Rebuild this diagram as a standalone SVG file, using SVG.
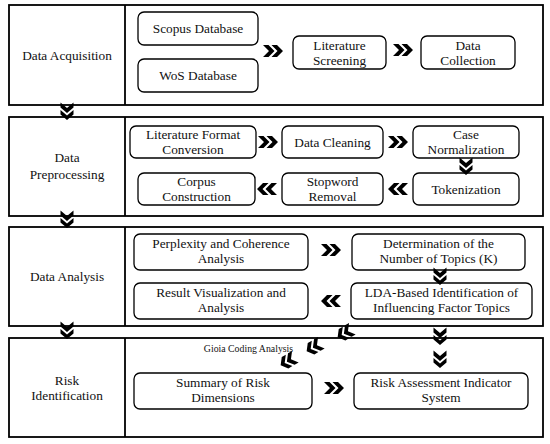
<svg xmlns="http://www.w3.org/2000/svg" width="550" height="444" viewBox="0 0 550 444" font-family="'Liberation Serif', 'DejaVu Serif', serif">
<style>
.sec{fill:#fff;stroke:#000;stroke-width:1.8}
.box{fill:#fff;stroke:#000;stroke-width:1.3}
text{font-family:'Liberation Serif','DejaVu Serif',serif;font-size:13.3px;fill:#111;text-anchor:middle}
.sm{font-size:9.8px}
.ch{fill:#000}
</style>
<defs>
<path id="r" d="M-10,-6 L-4.5,-6 L1.5,0 L-4.5,6 L-10,6 L-4,0 Z M-1.5,-6 L4,-6 L10,0 L4,6 L-1.5,6 L4.5,0 Z"/>
<path id="d" d="M-6.5,-8.5 L-6.5,-3.5 L0,2 L6.5,-3.5 L6.5,-8.5 L0,-3 Z M-6.5,-1 L-6.5,3.5 L0,9 L6.5,3.5 L6.5,-1 L0,4.5 Z"/>
</defs>
<rect width="550" height="444" fill="#fff"/>

<g id="sec1">
<rect class="sec" x="9" y="5" width="534" height="100"/>
<line x1="125" y1="5" x2="125" y2="105" stroke="#000" stroke-width="1.8"/>
<text x="67" y="59.5">Data Acquisition</text>
</g>
<g id="sec2">
<rect class="sec" x="9" y="117" width="534" height="99"/>
<line x1="125" y1="117" x2="125" y2="216" stroke="#000" stroke-width="1.8"/>
<text x="67" y="162">Data</text>
<text x="67" y="179">Preprocessing</text>
</g>
<g id="sec3">
<rect class="sec" x="9" y="227" width="534" height="99"/>
<line x1="125" y1="227" x2="125" y2="326" stroke="#000" stroke-width="1.8"/>
<text x="67" y="281">Data Analysis</text>
</g>
<g id="sec4">
<rect class="sec" x="9" y="338" width="534" height="99"/>
<line x1="125" y1="338" x2="125" y2="437" stroke="#000" stroke-width="1.8"/>
<text x="67" y="385">Risk</text>
<text x="67" y="400">Identification</text>
<text class="sm" x="248.5" y="351.5">Gioia Coding Analysis</text>
</g>

<g id="scopus"><rect class="box" x="138" y="12" width="120" height="33" rx="6"/><text x="198" y="33">Scopus Database</text></g>
<g id="wos"><rect class="box" x="138" y="59" width="120" height="33" rx="6"/><text x="198" y="80">WoS Database</text></g>
<g id="screening"><rect class="box" x="293" y="36" width="93" height="33" rx="6"/><text x="339.5" y="49.5">Literature</text><text x="339.5" y="64.5">Screening</text></g>
<g id="collection"><rect class="box" x="421" y="36" width="94" height="33" rx="6"/><text x="468" y="49.5">Data</text><text x="468" y="64.5">Collection</text></g>

<g id="format"><rect class="box" x="130" y="126" width="126" height="32" rx="6"/><text x="193" y="138.5">Literature Format</text><text x="193" y="153.5">Conversion</text></g>
<g id="cleaning"><rect class="box" x="282" y="126" width="101" height="32" rx="6"/><text x="332.5" y="146.5">Data Cleaning</text></g>
<g id="case"><rect class="box" x="413" y="126" width="106" height="32" rx="6"/><text x="466" y="138.5">Case</text><text x="466" y="153.5">Normalization</text></g>
<g id="corpus"><rect class="box" x="138" y="173" width="117" height="32" rx="6"/><text x="196.5" y="185.5">Corpus</text><text x="196.5" y="200.5">Construction</text></g>
<g id="stopword"><rect class="box" x="282" y="173" width="101" height="32" rx="6"/><text x="332.5" y="185.5">Stopword</text><text x="332.5" y="200.5">Removal</text></g>
<g id="token"><rect class="box" x="413" y="173" width="106" height="32" rx="6"/><text x="466" y="193.5">Tokenization</text></g>

<g id="perplexity"><rect class="box" x="134" y="234" width="174" height="36" rx="6"/><text x="221" y="248">Perplexity and Coherence</text><text x="221" y="263">Analysis</text></g>
<g id="determination"><rect class="box" x="352" y="234" width="173" height="36" rx="6"/><text x="438.5" y="248">Determination of the</text><text x="438.5" y="263">Number of Topics (K)</text></g>
<g id="visual"><rect class="box" x="134" y="283" width="174" height="36" rx="6"/><text x="221" y="297">Result Visualization and</text><text x="221" y="312">Analysis</text></g>
<g id="lda"><rect class="box" x="351" y="283" width="181" height="36" rx="6"/><text x="441.5" y="297">LDA-Based Identification of</text><text x="441.5" y="312">Influencing Factor Topics</text></g>

<g id="summary"><rect class="box" x="134" y="373" width="178" height="36" rx="6"/><text x="223" y="387">Summary of Risk</text><text x="223" y="402">Dimensions</text></g>
<g id="assessment"><rect class="box" x="354" y="373" width="174" height="36" rx="6"/><text x="441" y="387">Risk Assessment Indicator</text><text x="441" y="402">System</text></g>

<g id="connectors" class="ch">
<use href="#r" transform="translate(273,51)"/>
<use href="#r" transform="translate(403,50)"/>
<use href="#r" transform="translate(268,142)"/>
<use href="#r" transform="translate(398,142)"/>
<use href="#r" transform="translate(398,189) rotate(180)"/>
<use href="#r" transform="translate(267,189) rotate(180)"/>
<use href="#r" transform="translate(331,250)"/>
<use href="#r" transform="translate(331,301) rotate(180)"/>
<use href="#r" transform="translate(334,388)"/>
<use href="#d" transform="translate(67,111)"/>
<use href="#d" transform="translate(67,219)"/>
<use href="#d" transform="translate(67,330)"/>
<use href="#d" transform="translate(466,166)"/>
<use href="#d" transform="translate(440,276)"/>
<use href="#d" transform="translate(440,336)"/>
<use href="#d" transform="translate(440,359)"/>
<use href="#r" transform="translate(345,333) rotate(150) scale(0.85,1.1)"/>
<use href="#r" transform="translate(314,347) rotate(150) scale(0.85,1.1)"/>
<use href="#r" transform="translate(288,361) rotate(150) scale(0.85,1.1)"/>
</g>
</svg>
